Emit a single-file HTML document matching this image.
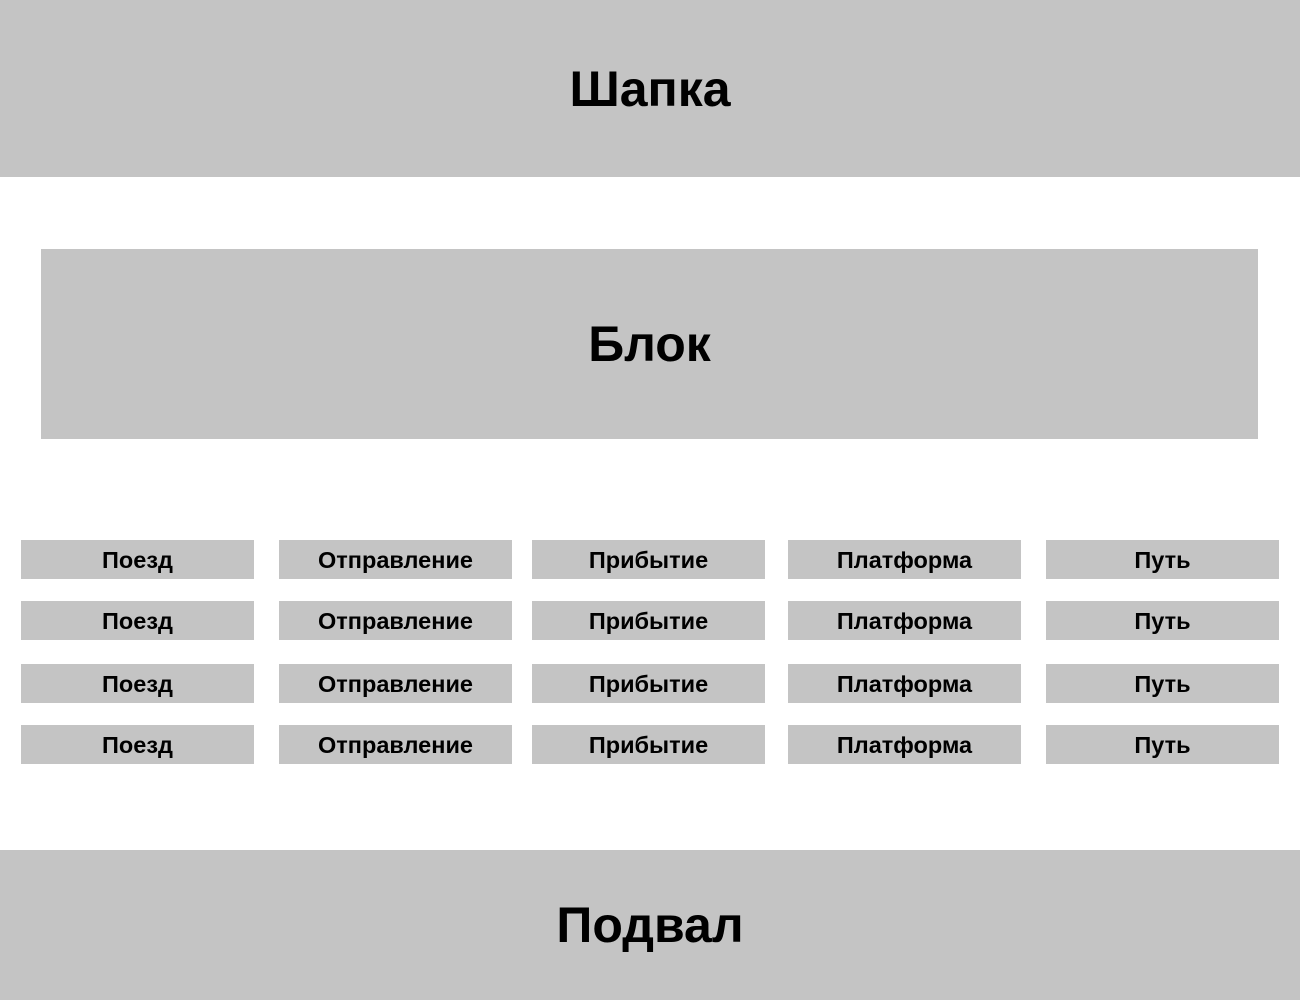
<!DOCTYPE html>
<html><head><meta charset="utf-8"><style>
body{margin:0;width:1300px;height:1000px;position:relative;background:#fff;font-family:"Liberation Sans",sans-serif;font-weight:bold;overflow:hidden}
.b{position:absolute;background:#c4c4c4;display:flex;align-items:center;justify-content:center;color:#000}
.big{font-size:50px}
.c{font-size:23.5px;height:39px;width:233px;padding-top:2px;box-sizing:border-box}
</style></head><body>
<div class="b big" style="left:0;top:0;width:1300px;height:177px">Шапка</div>
<div class="b big" style="left:41px;top:249px;width:1217px;height:190px">Блок</div>
<div class="b big" style="left:0;top:850px;width:1300px;height:150px">Подвал</div>
<div class="b c" style="left:21px;top:540px">Поезд</div>
<div class="b c" style="left:279px;top:540px">Отправление</div>
<div class="b c" style="left:532px;top:540px">Прибытие</div>
<div class="b c" style="left:788px;top:540px">Платформа</div>
<div class="b c" style="left:1046px;top:540px">Путь</div>
<div class="b c" style="left:21px;top:601px">Поезд</div>
<div class="b c" style="left:279px;top:601px">Отправление</div>
<div class="b c" style="left:532px;top:601px">Прибытие</div>
<div class="b c" style="left:788px;top:601px">Платформа</div>
<div class="b c" style="left:1046px;top:601px">Путь</div>
<div class="b c" style="left:21px;top:664px">Поезд</div>
<div class="b c" style="left:279px;top:664px">Отправление</div>
<div class="b c" style="left:532px;top:664px">Прибытие</div>
<div class="b c" style="left:788px;top:664px">Платформа</div>
<div class="b c" style="left:1046px;top:664px">Путь</div>
<div class="b c" style="left:21px;top:725px">Поезд</div>
<div class="b c" style="left:279px;top:725px">Отправление</div>
<div class="b c" style="left:532px;top:725px">Прибытие</div>
<div class="b c" style="left:788px;top:725px">Платформа</div>
<div class="b c" style="left:1046px;top:725px">Путь</div>
</body></html>
